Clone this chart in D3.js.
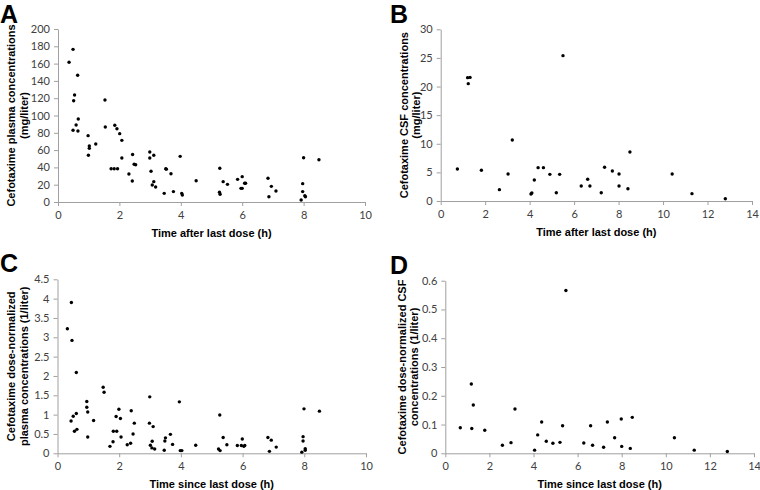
<!DOCTYPE html>
<html>
<head>
<meta charset="utf-8">
<script src="https://cdn.jsdelivr.net/npm/d3@7"></script>
<style>
  html, body { margin: 0; padding: 0; background: #fff; }
  svg { display: block; }
  .tick text { font-family: Lato, "Open Sans", sans-serif; font-size: 11px; fill: #404040; }
  .domain, .tick line { stroke: #a0a0a0; }
</style>
</head>
<body>
<svg id="chart" width="760" height="490"></svg>
<script>
// Panel A: plasma concentrations (mg/liter)
const timeA = [0.36,0.49,0.64,0.54,0.51,0.59,0.66,0.49,0.65,0.98,1.02,1.02,0.99,1.23,1.53,1.54,1.85,1.92,2.01,2.08,2.08,1.73,1.83,1.94,2.43,2.48,2.53,2.31,2.42,2.99,2.99,3.12,3.03,3.12,3.07,3.18,3.51,3.53,3.68,3.46,3.76,3.98,4.03,4.05,4.5,5.27,5.38,5.52,5.26,5.28,5.85,6.0,6.08,6.11,5.96,6.0,6.84,6.95,7.1,6.87,8.0,8.5,7.97,7.97,8.04,8.06,7.92];
const concA = [161.5,176.5,146.5,123.7,117,89,96,83,82,76.7,64.7,62,54,67,118,86.7,88.7,84.7,79,71.3,50.9,38.5,38.5,38.5,55,43.6,43,32.4,24.3,57.8,50.9,54,35.5,23.5,19.7,17.3,38.5,38,32.7,10,12,52.8,10,8,24.6,39,23.5,20.4,11.2,8.9,26.2,29.3,21.6,21.6,15.8,15.8,27.4,18.1,12.7,6.1,51.2,48.9,21.2,12,7.3,6.1,2.3];

// Panel B: CSF concentrations (mg/liter)
const timeB = [0.75,1.24,1.21,1.32,1.83,2.64,3.03,3.22,4.06,4.1,4.21,4.38,4.62,4.91,5.2,5.35,5.5,6.32,6.61,6.71,7.22,7.37,7.72,8.02,8.02,8.42,8.51,10.41,11.3,12.8];
const concB = [5.6,20.5,21.55,21.6,5.36,1.98,4.72,10.66,1.22,1.4,3.67,5.83,5.83,4.66,1.45,4.66,25.4,2.62,3.79,2.62,1.45,5.89,5.24,4.72,2.62,2.15,8.57,4.72,1.28,0.4];

// Panel C: dose-normalized plasma concentrations (1/liter)
const timeC = [0.32,0.45,0.47,0.61,0.44,0.51,0.61,0.63,0.55,0.95,0.95,0.98,0.98,1.17,1.48,1.51,1.7,1.8,1.81,1.92,1.9,1.99,2.04,2.06,2.26,2.37,2.39,2.49,2.45,2.99,2.98,3.1,3.07,3.01,3.06,3.15,3.5,3.48,3.46,3.66,3.73,3.95,3.98,4.03,4.48,5.26,5.37,5.49,5.22,5.27,5.83,5.99,5.96,6.04,6.07,6.82,6.93,7.09,6.87,7.99,8.49,7.96,7.96,8.03,8.03,7.92];
const concC = [3.22,3.9,2.92,2.09,0.835,0.96,1.03,0.62,0.57,1.34,1.19,1.07,0.42,0.85,1.71,1.58,0.18,0.3,0.57,0.57,0.95,1.14,0.9,0.42,0.22,0.26,1.1,0.78,0.5,1.46,0.78,0.69,0.31,0.21,0.14,0.11,0.4,0.32,0.08,0.49,0.23,1.33,0.07,0.07,0.21,0.99,0.41,0.22,0.11,0.07,0.2,0.37,0.2,0.18,0.2,0.41,0.34,0.16,0.05,1.15,1.09,0.43,0.32,0.12,0.08,0.03];

// Panel D: dose-normalized CSF concentrations (1/liter)
const timeD = [0.68,1.18,1.27,1.2,1.79,2.59,2.98,3.16,4.05,4.19,4.37,4.58,4.88,5.2,5.32,5.47,6.28,6.59,6.68,7.18,7.35,7.68,7.98,8.0,8.39,8.48,10.39,11.29,12.79];
const concD = [0.089,0.241,0.168,0.086,0.08,0.028,0.037,0.154,0.011,0.064,0.109,0.042,0.035,0.038,0.096,0.566,0.036,0.096,0.028,0.021,0.109,0.054,0.119,0.024,0.017,0.125,0.054,0.011,0.006];

// Tick values
const xTicksA = [0,2,4,6,8,10];
const yTicksA = [0,20,40,60,80,100,120,140,160,180,200];
const xTicksB = [0,2,4,6,8,10,12,14];
const yTicksB = [0,5,10,15,20,25,30];
const yTicksC = [0,0.5,1,1.5,2,2.5,3,3.5,4,4.5];
const yTicksD = [0,0.1,0.2,0.3,0.4,0.5,0.6];

const panels = [
  { letter: "A", lx: 0, ly: 23, xs: timeA, ys: concA, xMax: 10, yMax: 200, xTicks: xTicksA, yTicks: yTicksA,
    x0: 58, x1: 365, y0: 202, y1: 29, xTitle: "Time after last dose (h)",
    yTitle: ["Cefotaxime plasma concentrations", "(mg/liter)"], t1x: 15, t2x: 28 },
  { letter: "B", lx: 390, ly: 23, xs: timeB, ys: concB, xMax: 14, yMax: 30, xTicks: xTicksB, yTicks: yTicksB,
    x0: 440.7, x1: 752, y0: 201, y1: 29.3, xTitle: "Time after last dose (h)",
    yTitle: ["Cefotaxime CSF concentrations", "(mg/liter)"], t1x: 408, t2x: 420 },
  { letter: "C", lx: 0, ly: 272, xs: timeC, ys: concC, xMax: 10, yMax: 4.5, xTicks: xTicksA, yTicks: yTicksC,
    x0: 57.5, x1: 366, y0: 453.3, y1: 279.3, xTitle: "Time since last dose (h)",
    yTitle: ["Cefotaxime dose-normalized", "plasma concentrations (1/liter)"], t1x: 15, t2x: 28 },
  { letter: "D", lx: 390, ly: 274, xs: timeD, ys: concD, xMax: 14, yMax: 0.6, xTicks: xTicksB, yTicks: yTicksD,
    x0: 445.3, x1: 754, y0: 453.3, y1: 280.7, xTitle: "Time since last dose (h)",
    yTitle: ["Cefotaxime dose-normalized CSF", "concentrations (1/liter)"], t1x: 406, t2x: 418 }
];

const svg = d3.select("#chart");

panels.forEach(p => {
  const x = d3.scaleLinear().domain([0, p.xMax]).range([p.x0, p.x1]);
  const y = d3.scaleLinear().domain([0, p.yMax]).range([p.y0, p.y1]);
  const g = svg.append("g");

  g.append("g")
    .attr("transform", `translate(0,${p.y0})`)
    .call(d3.axisBottom(x).tickValues(p.xTicks).tickSize(4).tickSizeOuter(0).tickPadding(5).tickFormat(d3.format("")))
    .call(a => a.select(".domain").attr("stroke", "#a0a0a0"));

  g.append("g")
    .attr("transform", `translate(${p.x0},0)`)
    .call(d3.axisLeft(y).tickValues(p.yTicks).tickSize(4).tickSizeOuter(0).tickPadding(4).tickFormat(d3.format("")))
    .call(a => a.select(".domain").attr("stroke", "#a0a0a0"));

  g.selectAll("circle.pt")
    .data(p.xs.map((t, i) => [t, p.ys[i]]))
    .join("circle")
    .attr("class", "pt")
    .attr("cx", d => x(d[0]))
    .attr("cy", d => y(d[1]))
    .attr("r", 1.7)
    .attr("fill", "#000");

  // x title
  g.append("text")
    .attr("x", (p.x0 + p.x1) / 2)
    .attr("y", p.y0 + 35)
    .attr("text-anchor", "middle")
    .attr("font-family", "Liberation Sans, Arial, sans-serif")
    .attr("font-weight", "bold")
    .attr("font-size", 11)
    .attr("fill", "#000")
    .text(p.xTitle);

  // y title (two lines)
  const cy = (p.y0 + p.y1) / 2;
  [p.t1x, p.t2x].forEach((tx, i) => {
    g.append("text")
      .attr("transform", `translate(${tx},${cy}) rotate(-90)`)
      .attr("text-anchor", "middle")
      .attr("font-family", "Liberation Sans, Arial, sans-serif")
      .attr("font-weight", "bold")
      .attr("font-size", 11)
      .attr("fill", "#000")
      .text(p.yTitle[i]);
  });

  // panel letter
  svg.append("text")
    .attr("x", p.lx)
    .attr("y", p.ly)
    .attr("font-family", "Liberation Sans, Arial, sans-serif")
    .attr("font-weight", "bold")
    .attr("font-size", 25)
    .attr("fill", "#000")
    .text(p.letter);
});
</script>
</body>
</html>
